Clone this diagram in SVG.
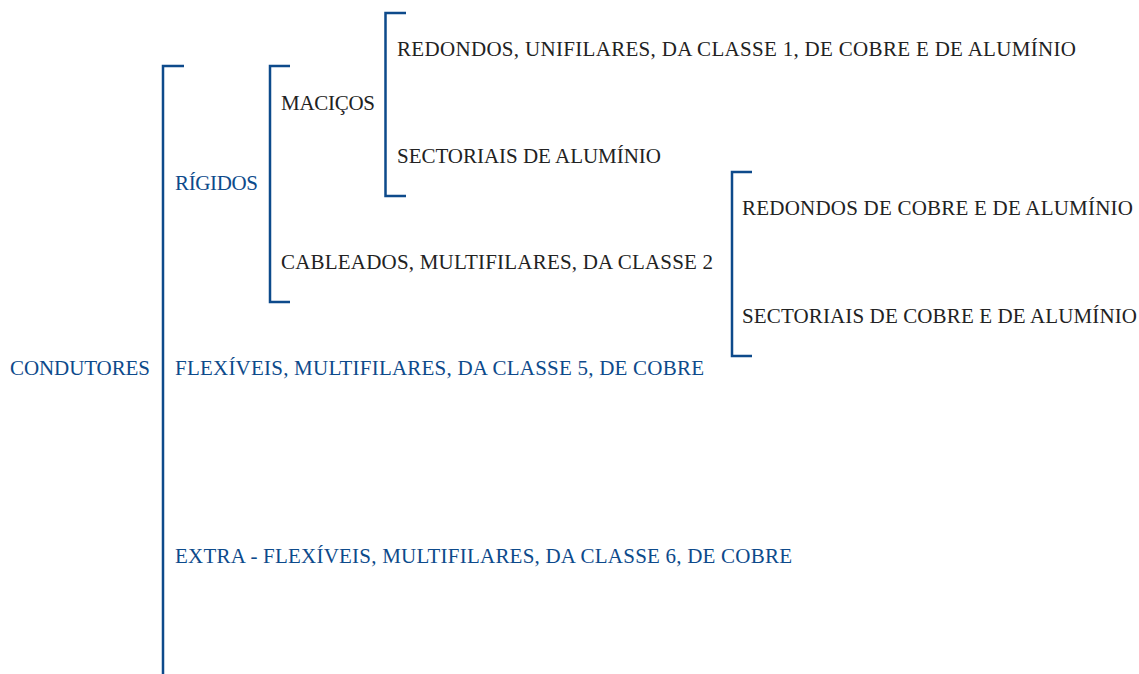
<svg xmlns="http://www.w3.org/2000/svg" width="1139" height="674" viewBox="0 0 1139 674">
<style>
.b{fill:none;stroke:#0d4a8b;stroke-width:2.5}
.t{font-family:"Liberation Serif",serif;font-size:21px}
.blue{fill:#0d4a8b}
.blk{fill:#222}
</style>
<rect width="1139" height="674" fill="#fff"/>
<g id="connectors">
<path class="b" d="M184,66 H163 V674"/>
<path class="b" d="M290,66 H270 V302 H290"/>
<path class="b" d="M406,13 H385.5 V196 H406"/>
<path class="b" d="M752,172 H732 V356 H752"/>
</g>
<g id="condutores"><text class="t blue" x="10" y="375" textLength="140">CONDUTORES</text></g>
<g id="rigidos"><text class="t blue" x="175" y="190" textLength="83">RÍGIDOS</text></g>
<g id="flexiveis"><text class="t blue" x="175" y="375" textLength="529">FLEXÍVEIS, MULTIFILARES, DA CLASSE 5, DE COBRE</text></g>
<g id="extra"><text class="t blue" x="175" y="563" textLength="617">EXTRA - FLEXÍVEIS, MULTIFILARES, DA CLASSE 6, DE COBRE</text></g>
<g id="macicos"><text class="t blk" x="281" y="110" textLength="94">MACIÇOS</text></g>
<g id="cableados"><text class="t blk" x="281" y="269" textLength="432">CABLEADOS, MULTIFILARES, DA CLASSE 2</text></g>
<g id="redondos1"><text class="t blk" x="397" y="56" textLength="679">REDONDOS, UNIFILARES, DA CLASSE 1, DE COBRE E DE ALUMÍNIO</text></g>
<g id="sectoriais1"><text class="t blk" x="397" y="163" textLength="264">SECTORIAIS DE ALUMÍNIO</text></g>
<g id="redondos2"><text class="t blk" x="742" y="215" textLength="391">REDONDOS DE COBRE E DE ALUMÍNIO</text></g>
<g id="sectoriais2"><text class="t blk" x="742" y="323" textLength="395">SECTORIAIS DE COBRE E DE ALUMÍNIO</text></g>
</svg>
